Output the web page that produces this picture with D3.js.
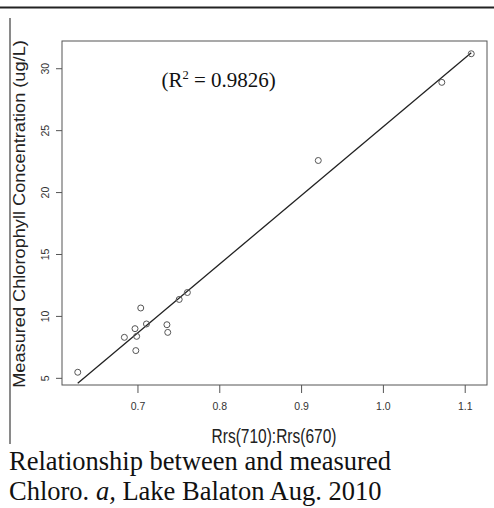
<html>
	<head>
		<meta charset="utf-8">
		<style>
			body {
				margin: 0;
				background: white;
			}
			svg text {
				font-family: "Liberation Sans", Arial, sans-serif;
			}
			svg text.serif {
				font-family: "Liberation Serif", "Times New Roman", serif;
			}
		</style>
		<script type="text/javascript" src="https://cdn.jsdelivr.net/npm/d3@7"></script>
		<title>Rrs ratio vs Chlorophyll</title>
	</head>
	<body>
		<script type="text/javascript">
			// ratio Rrs(710):Rrs(670)
			var ratio = [0.627, 0.684, 0.697, 0.699, 0.698, 0.704, 0.711, 0.736, 0.737, 0.751, 0.761, 0.921, 1.072, 1.108];
			// measured chlorophyll (ug/L)
			var chl = [5.45, 8.27, 8.97, 8.35, 7.2, 10.64, 9.35, 9.29, 8.67, 11.33, 11.89, 22.55, 28.86, 31.17];
			var xTicks = [0.7, 0.8, 0.9, 1.0, 1.1];
			var yTicks = [5, 10, 15, 20, 25, 30];
			var xTickLabels = ["0.7", "0.8", "0.9", "1.0", "1.1"];
			var yTickLabels = ["5", "10", "15", "20", "25", "30"];
			var rsqText = "0.9826";

			var w = 494;
			var h = 508;
			var box = {left: 62, right: 487, top: 41, bottom: 385};

			// R style axis range: data range padded 4% on each side
			function padded(arr) {
				var lo = d3.min(arr), hi = d3.max(arr);
				var pad = (hi - lo) * 0.04;
				return [lo - pad, hi + pad];
			}

			var x = d3.scaleLinear().domain(padded(ratio)).range([box.left, box.right]);
			var y = d3.scaleLinear().domain(padded(chl)).range([box.bottom, box.top]);

			// least squares fit
			var mx = d3.mean(ratio), my = d3.mean(chl);
			var sxy = 0, sxx = 0;
			for (var i = 0; i < ratio.length; i++) {
				sxy += (ratio[i] - mx) * (chl[i] - my);
				sxx += (ratio[i] - mx) * (ratio[i] - mx);
			}
			var slope = sxy / sxx;
			var intercept = my - slope * mx;

			var svg = d3.select("body")
				.append("svg")
				.attr("width", w)
				.attr("height", h);

			// page rules around the figure
			svg.append("line")
				.attr("x1", 0).attr("x2", w)
				.attr("y1", 7.5).attr("y2", 7.5)
				.attr("stroke", "#222")
				.attr("stroke-width", 2);
			svg.append("line")
				.attr("x1", 10).attr("x2", 10)
				.attr("y1", 18).attr("y2", 444)
				.attr("stroke", "#8a8a8a")
				.attr("stroke-width", 2);

			// plot box
			svg.append("rect")
				.attr("x", box.left)
				.attr("y", box.top)
				.attr("width", box.right - box.left)
				.attr("height", box.bottom - box.top)
				.attr("fill", "none")
				.attr("stroke", "#555")
				.attr("stroke-width", 1);

			// x axis
			var xAxis = d3.axisBottom(x)
				.tickValues(xTicks)
				.tickSize(8)
				.tickPadding(10)
				.tickFormat(function(d, i) { return xTickLabels[i]; });
			var gx = svg.append("g")
				.attr("transform", "translate(0," + box.bottom + ")")
				.call(xAxis);
			gx.select(".domain").remove();
			gx.selectAll(".tick line").attr("stroke", "#555");
			gx.selectAll(".tick text")
				.attr("font-size", 10.5)
				.attr("font-family", "Liberation Sans, Arial, sans-serif")
				.attr("fill", "#333");

			// y axis, labels turned like R's default
			var yAxis = d3.axisLeft(y)
				.tickValues(yTicks)
				.tickSize(6)
				.tickFormat(function(d, i) { return yTickLabels[i]; });
			var gy = svg.append("g")
				.attr("transform", "translate(" + box.left + ",0)")
				.call(yAxis);
			gy.select(".domain").remove();
			gy.selectAll(".tick line").attr("stroke", "#555");
			gy.selectAll(".tick text")
				.attr("font-size", 10.5)
				.attr("font-family", "Liberation Sans, Arial, sans-serif")
				.attr("fill", "#333")
				.attr("text-anchor", "middle")
				.attr("dy", 0)
				.attr("x", 0)
				.attr("transform", "translate(-13,0) rotate(-90)");

			// fitted line over the data range
			var xr = d3.extent(ratio);
			svg.append("line")
				.attr("x1", x(xr[0]))
				.attr("y1", y(intercept + slope * xr[0]))
				.attr("x2", x(xr[1]))
				.attr("y2", y(intercept + slope * xr[1]))
				.attr("stroke", "#222")
				.attr("stroke-width", 1.3);

			// points
			svg.selectAll("circle")
				.data(ratio)
				.enter()
				.append("circle")
				.attr("cx", function(d) { return x(d); })
				.attr("cy", function(d, i) { return y(chl[i]); })
				.attr("r", 3)
				.attr("fill", "none")
				.attr("stroke", "#555")
				.attr("stroke-width", 1);

			// axis titles
			svg.append("text")
				.attr("transform", "translate(274,443) scale(1,1.26)")
				.attr("text-anchor", "middle")
				.attr("font-size", 15.5)
				.attr("fill", "#222")
				.text("Rrs(710):Rrs(670)");

			svg.append("text")
				.attr("transform", "translate(25,214) rotate(-90) scale(1.07,1)")
				.attr("text-anchor", "middle")
				.attr("font-size", 17)
				.attr("fill", "#222")
				.text("Measured Chlorophyll Concentration (ug/L)");

			// R squared note
			var rt = svg.append("text")
				.attr("class", "serif")
				.attr("x", 161.5)
				.attr("y", 86.5)
				.attr("font-size", 21)
				.attr("fill", "#111");
			rt.append("tspan").text("(R");
			rt.append("tspan").attr("font-size", 12.5).attr("dy", -8).text("2");
			rt.append("tspan").attr("dy", 8).text(" = " + rsqText + ")");

			// caption under the figure
			svg.append("text")
				.attr("class", "serif")
				.attr("x", 9)
				.attr("y", 470)
				.attr("font-size", 26.5)
				.attr("fill", "#111")
				.text("Relationship between and measured");
			var c2 = svg.append("text")
				.attr("class", "serif")
				.attr("x", 9)
				.attr("y", 500)
				.attr("font-size", 26.5)
				.attr("fill", "#111");
			c2.append("tspan").text("Chloro. ");
			c2.append("tspan").attr("font-style", "italic").text("a,");
			c2.append("tspan").text(" Lake Balaton Aug. 2010");
		</script>
	</body>
</html>
